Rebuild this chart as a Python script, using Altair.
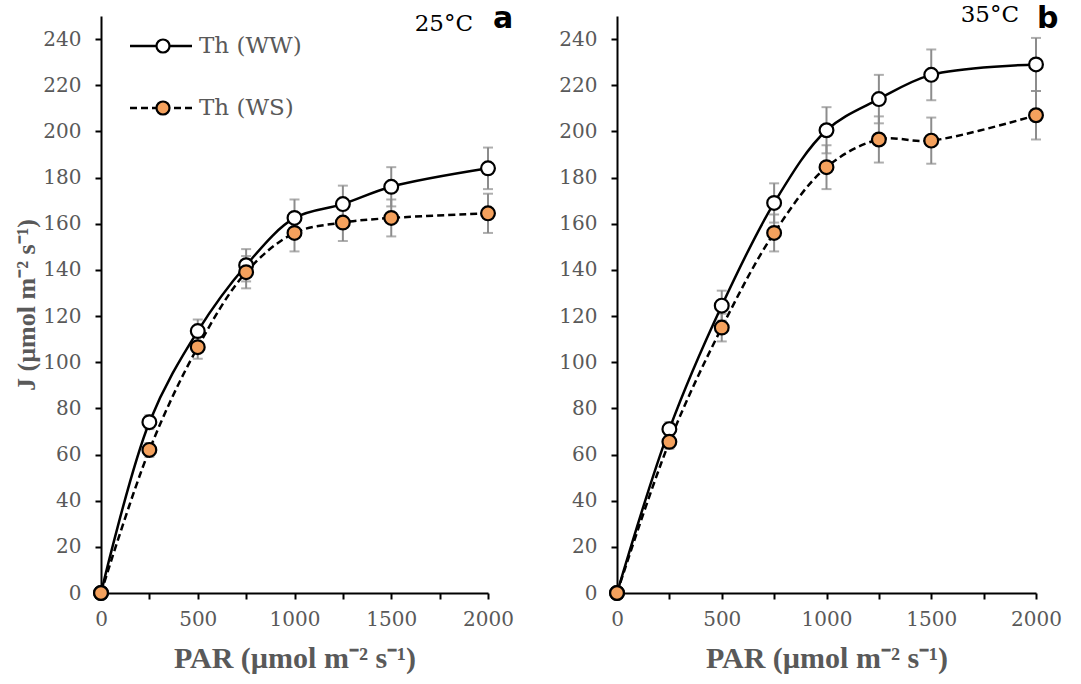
import altair as alt
import pandas as pd

par = [0, 250, 500, 750, 1000, 1250, 1500, 2000]

a_ww = [0, 74, 113.5, 142, 162.5, 168.5, 176, 184]
a_ww_se = [0, 3, 5, 7, 8, 8, 8.5, 9]
a_ws = [0, 62, 106.5, 139, 156, 160.5, 162.5, 164.5]
a_ws_se = [0, 3, 5, 7, 8, 8, 8, 8.5]

b_ww = [0, 71, 124.5, 169, 200.5, 214, 224.5, 229]
b_ww_se = [0, 3, 6.5, 8.5, 10, 10.5, 11, 11.5]
b_ws = [0, 65.5, 115, 156, 184.5, 196.5, 196, 207]
b_ws_se = [0, 3, 6, 8, 9.5, 10, 10, 10.5]

series_names = ["Th (WW)", "Th (WS)"]
ORANGE = "#F4A15D"
GRAY_TXT = "#595959"
ERR = "#8C8C8C"


def frame(ww, ww_se, ws, ws_se):
    rows = []
    for p, v, s in zip(par, ww, ww_se):
        rows.append({"PAR": p, "J": v, "lo": v - s, "hi": v + s, "series": "WW"})
    for p, v, s in zip(par, ws, ws_se):
        rows.append({"PAR": p, "J": v, "lo": v - s, "hi": v + s, "series": "WS"})
    return pd.DataFrame(rows)


def panel(df, width, temp, letter, show_ytitle, legend):
    xs = alt.Scale(domain=[0, 2000], nice=False, zero=True)
    ys = alt.Scale(domain=[0, 250], nice=False)
    xaxis = alt.Axis(
        values=list(range(0, 2001, 250)),
        labelExpr="datum.value % 500 == 0 ? datum.label : ''",
        title="PAR (µmol m⁻² s⁻¹)",
        format="d",
    )
    yaxis = alt.Axis(
        values=list(range(0, 251, 10)),
        labelExpr="datum.value % 20 == 0 && datum.value <= 240 ? datum.label : ''",
        title="J (µmol m⁻² s⁻¹)" if show_ytitle else "",
    )
    base = alt.Chart(df)
    x = alt.X("PAR:Q", scale=xs, axis=xaxis)
    y = alt.Y("J:Q", scale=ys, axis=yaxis)

    err_df = df[df["PAR"] > 0]
    eb = alt.Chart(err_df)
    err_rule = eb.mark_rule(color=ERR, strokeWidth=2).encode(
        x=alt.X("PAR:Q", scale=xs), y=alt.Y("lo:Q", scale=ys), y2="hi:Q"
    )
    cap_lo = eb.mark_tick(color=ERR, orient="horizontal", size=10, thickness=2).encode(
        x=alt.X("PAR:Q", scale=xs), y=alt.Y("lo:Q", scale=ys)
    )
    cap_hi = eb.mark_tick(color=ERR, orient="horizontal", size=10, thickness=2).encode(
        x=alt.X("PAR:Q", scale=xs), y=alt.Y("hi:Q", scale=ys)
    )

    line_ww = base.transform_filter("datum.series == 'WW'").mark_line(
        color="black", strokeWidth=2.5, interpolate="catmull-rom"
    ).encode(x=x, y=y)
    line_ws = base.transform_filter("datum.series == 'WS'").mark_line(
        color="black", strokeWidth=2.5, strokeDash=[7, 4], interpolate="catmull-rom"
    ).encode(x=x, y=y)
    pts_ww = base.transform_filter("datum.series == 'WW'").mark_point(
        filled=True, fill="white", stroke="black", strokeWidth=2.2, size=190, opacity=1
    ).encode(x=x, y=y)
    pts_ws = base.transform_filter("datum.series == 'WS'").mark_point(
        filled=True, fill=ORANGE, stroke="black", strokeWidth=2.2, size=190, opacity=1
    ).encode(x=x, y=y)

    t_temp = alt.Chart(pd.DataFrame({"t": [temp]})).mark_text(
        font="DejaVu Serif", fontSize=23, color="black", align="right", baseline="alphabetic"
    ).encode(text="t:N", x=alt.value(temp_pos[letter][0]), y=alt.value(temp_pos[letter][1]))
    t_let = alt.Chart(pd.DataFrame({"t": [letter]})).mark_text(
        font="DejaVu Sans", fontWeight="bold", fontSize=30, color="black", align="left",
        baseline="alphabetic",
    ).encode(text="t:N", x=alt.value(temp_pos[letter][2]), y=alt.value(temp_pos[letter][3]))

    layers = [err_rule, cap_lo, cap_hi, line_ww, line_ws, pts_ww, pts_ws, t_temp, t_let]

    if legend:
        for i, nm in enumerate(series_names):
            yy = 30 + i * 62
            one = alt.Chart(pd.DataFrame({"name": [nm]}))
            dash = [1, 0] if i == 0 else [7, 4]
            layers.append(one.mark_rule(color="black", strokeWidth=2.5, strokeDash=dash).encode(
                x=alt.value(29), x2=alt.value(91), y=alt.value(yy)))
            layers.append(one.mark_point(
                filled=True, fill="white" if i == 0 else ORANGE, stroke="black",
                strokeWidth=2.2, size=170, opacity=1).encode(x=alt.value(62), y=alt.value(yy)))
            layers.append(one.mark_text(
                font="DejaVu Serif", fontSize=23, color=GRAY_TXT, align="left", baseline="middle"
            ).encode(text="name:N", x=alt.value(98), y=alt.value(yy)))

    return alt.layer(*layers).properties(width=width, height=577)


temp_pos = {"a": (372, 15, 392, 12), "b": (402, 6, 420, 12)}

df_a = frame(a_ww, a_ww_se, a_ws, a_ws_se)
df_b = frame(b_ww, b_ww_se, b_ws, b_ws_se)

pa = panel(df_a, 387, "25°C", "a", True, True)
pb = panel(df_b, 419, "35°C", "b", False, False)

chart = alt.hconcat(pa, pb, spacing=129, bounds="flush").properties(
    padding={"left": 13, "top": 4, "right": 5, "bottom": 5},
    autosize=alt.AutoSizeParams(type="pad"),
).configure_view(stroke=None).configure_axis(
    grid=False,
    domainColor="black",
    domainWidth=2,
    tickColor="black",
    tickWidth=2,
    tickSize=6,
    labelFont="DejaVu Serif",
    labelFontSize=20,
    labelColor=GRAY_TXT,
    titleFont="Liberation Serif",
    titleFontWeight="bold",
    titleColor=GRAY_TXT,
).configure_axisX(
    labelPadding=10, titlePadding=14, labelFlush=False, titleFontSize=30
).configure_axisY(
    labelPadding=14, titlePadding=3, titleFontSize=26
)

chart.save("out.html", embed_options={"renderer": "svg", "actions": False})
